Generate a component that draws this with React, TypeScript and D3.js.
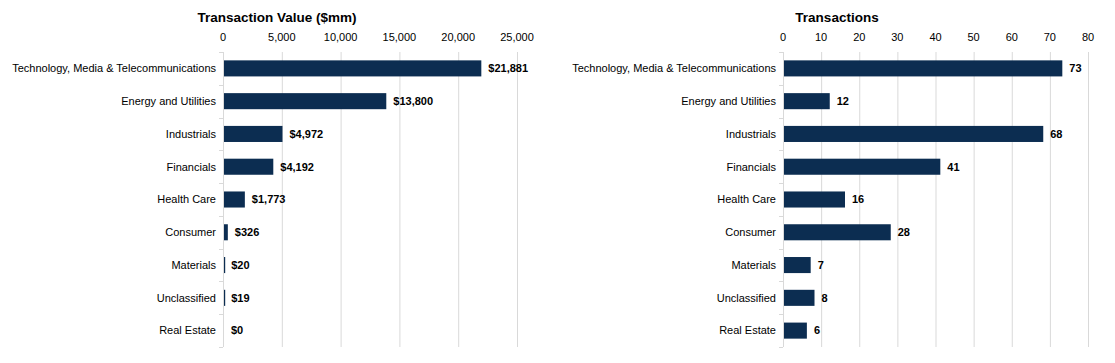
import React, { useEffect, useRef } from 'react';
import * as d3 from 'd3';

const WIDTH = 1115;
const HEIGHT = 363;

const categories = [
  'Technology, Media & Telecommunications',
  'Energy and Utilities',
  'Industrials',
  'Financials',
  'Health Care',
  'Consumer',
  'Materials',
  'Unclassified',
  'Real Estate',
];

const valueSeries = [21881, 13800, 4972, 4192, 1773, 326, 20, 19, 0];
const countSeries = [73, 12, 68, 41, 16, 28, 7, 8, 6];

const valueTicks = [0, 5000, 10000, 15000, 20000, 25000];
const countTicks = [0, 10, 20, 30, 40, 50, 60, 70, 80];

const BAR_COLOR = '#0c2d51';
const GRID_COLOR = '#d9d9d9';
const FONT = 'Arial, "Liberation Sans", sans-serif';

const PLOT_TOP = 52;
const PLOT_BOTTOM = 347;

type Panel = {
  title: string;
  values: number[];
  ticks: number[];
  x0: number;
  x1: number;
  tickFormat: (v: number) => string;
  labelFormat: (v: number) => string;
};

function drawPanel(svg: d3.Selection<SVGSVGElement, unknown, null, undefined>, p: Panel) {
  const x = d3
    .scaleLinear()
    .domain([0, p.ticks[p.ticks.length - 1]])
    .range([p.x0, p.x1]);

  const y = d3
    .scaleBand<string>()
    .domain(categories)
    .range([PLOT_TOP, PLOT_BOTTOM])
    .paddingInner(0.51)
    .paddingOuter(0.255);

  const g = svg.append('g');

  g.append('text')
    .attr('x', p.x0 + 54)
    .attr('y', 22)
    .attr('text-anchor', 'middle')
    .attr('font-family', FONT)
    .attr('font-weight', 'bold')
    .attr('font-size', 13.5)
    .attr('fill', '#000')
    .text(p.title);

  // vertical gridlines (skip zero, it's the axis line)
  g.selectAll('line.grid')
    .data(p.ticks.slice(1))
    .join('line')
    .attr('class', 'grid')
    .attr('x1', (d) => x(d) + 0.5)
    .attr('x2', (d) => x(d) + 0.5)
    .attr('y1', PLOT_TOP)
    .attr('y2', PLOT_BOTTOM)
    .attr('stroke', GRID_COLOR)
    .attr('stroke-width', 1);

  // top axis labels
  g.selectAll('text.tick')
    .data(p.ticks)
    .join('text')
    .attr('class', 'tick')
    .attr('x', (d) => x(d))
    .attr('y', 41)
    .attr('text-anchor', 'middle')
    .attr('font-family', FONT)
    .attr('font-size', 11)
    .attr('fill', '#000')
    .text((d) => p.tickFormat(d));

  // category axis line + tick marks at band edges
  g.append('line')
    .attr('x1', p.x0 + 0.5)
    .attr('x2', p.x0 + 0.5)
    .attr('y1', PLOT_TOP)
    .attr('y2', PLOT_BOTTOM)
    .attr('stroke', GRID_COLOR);

  const step = y.step();
  const edges = d3.range(categories.length + 1).map((i) => PLOT_TOP + i * step);
  g.selectAll('line.ytick')
    .data(edges)
    .join('line')
    .attr('class', 'ytick')
    .attr('x1', p.x0 - 4)
    .attr('x2', p.x0)
    .attr('y1', (d) => Math.round(d) + 0.5)
    .attr('y2', (d) => Math.round(d) + 0.5)
    .attr('stroke', GRID_COLOR);

  g.selectAll('text.cat')
    .data(categories)
    .join('text')
    .attr('class', 'cat')
    .attr('x', p.x0 - 7)
    .attr('y', (d) => (y(d) as number) + y.bandwidth() / 2)
    .attr('dy', '0.35em')
    .attr('text-anchor', 'end')
    .attr('font-family', FONT)
    .attr('font-size', 11)
    .attr('fill', '#000')
    .text((d) => d);

  const rows = categories.map((c, i) => ({ c, v: p.values[i] }));

  g.selectAll('rect.bar')
    .data(rows.filter((d) => d.v > 0))
    .join('rect')
    .attr('class', 'bar')
    .attr('x', p.x0 + 1)
    .attr('y', (d) => y(d.c) as number)
    .attr('width', (d) => Math.max(x(d.v) - p.x0, 1.2))
    .attr('height', y.bandwidth())
    .attr('fill', BAR_COLOR);

  g.selectAll('text.val')
    .data(rows)
    .join('text')
    .attr('class', 'val')
    .attr('x', (d) => x(d.v) + 8)
    .attr('y', (d) => (y(d.c) as number) + y.bandwidth() / 2)
    .attr('dy', '0.35em')
    .attr('font-family', FONT)
    .attr('font-weight', 'bold')
    .attr('font-size', 11)
    .attr('fill', '#000')
    .text((d) => p.labelFormat(d.v));
}

export default function App() {
  const svgRef = useRef<SVGSVGElement | null>(null);

  useEffect(() => {
    const svg = d3.select(svgRef.current as SVGSVGElement);
    svg.selectAll('*').remove();

    svg.append('rect').attr('width', WIDTH).attr('height', HEIGHT).attr('fill', '#fff');

    drawPanel(svg, {
      title: 'Transaction Value ($mm)',
      values: valueSeries,
      ticks: valueTicks,
      x0: 223,
      x1: 517,
      tickFormat: d3.format(','),
      labelFormat: (v) => '$' + d3.format(',')(v),
    });

    drawPanel(svg, {
      title: 'Transactions',
      values: countSeries,
      ticks: countTicks,
      x0: 783,
      x1: 1088,
      tickFormat: (v) => String(v),
      labelFormat: (v) => String(v),
    });
  }, []);

  return (
    <svg
      ref={svgRef}
      width={WIDTH}
      height={HEIGHT}
      style={{ position: 'absolute', left: 0, top: 0, display: 'block' }}
    />
  );
}
